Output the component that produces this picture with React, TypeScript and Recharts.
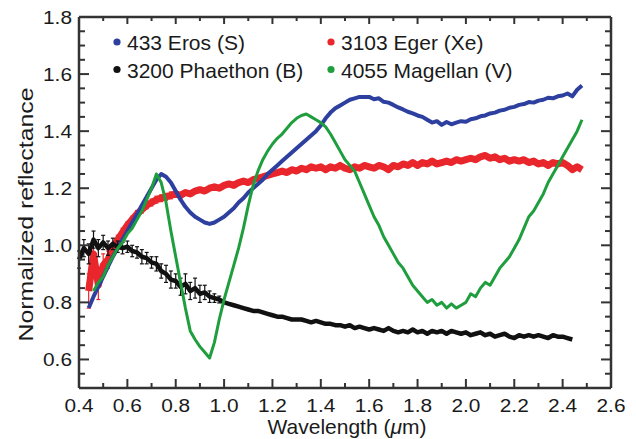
import React from "react";
import { LineChart, Line, XAxis, YAxis, Label, ErrorBar } from "recharts";

const W = 636;
const H = 439;
const MARGIN = { top: 17, right: 25, bottom: 0, left: 0 };
const Y_AXIS_W = 79;
const X_AXIS_H = 51;
const PLOT_TOP = MARGIN.top;
const PLOT_LEFT = MARGIN.left + Y_AXIS_W;
const PLOT_RIGHT = W - MARGIN.right;
const PLOT_BOTTOM = H - MARGIN.bottom - X_AXIS_H;
const X_DOMAIN = [0.4, 2.6];
const Y_DOMAIN = [0.5, 1.8];
const AXIS_COLOR = "#333333";
const TEXT_COLOR = "#1a1a1a";
const FONT = "'Liberation Sans', Arial, Helvetica, sans-serif";

// wavelength grid (µm)
const wavelength = [
  0.4, 0.42, 0.44, 0.46, 0.48, 0.5, 0.52, 0.54, 0.56, 0.58,
  0.6, 0.62, 0.64, 0.66, 0.68, 0.7, 0.72, 0.74, 0.76, 0.78,
  0.8, 0.82, 0.84, 0.86, 0.88, 0.9, 0.92, 0.94, 0.96, 0.98,
  1.0, 1.02, 1.04, 1.06, 1.08, 1.1, 1.12, 1.14, 1.16, 1.18,
  1.2, 1.22, 1.24, 1.26, 1.28, 1.3, 1.32, 1.34, 1.36, 1.38,
  1.4, 1.42, 1.44, 1.46, 1.48, 1.5, 1.52, 1.54, 1.56, 1.58,
  1.6, 1.62, 1.64, 1.66, 1.68, 1.7, 1.72, 1.74, 1.76, 1.78,
  1.8, 1.82, 1.84, 1.86, 1.88, 1.9, 1.92, 1.94, 1.96, 1.98,
  2.0, 2.02, 2.04, 2.06, 2.08, 2.1, 2.12, 2.14, 2.16, 2.18,
  2.2, 2.22, 2.24, 2.26, 2.28, 2.3, 2.32, 2.34, 2.36, 2.38,
  2.4, 2.42, 2.44, 2.46, 2.48,
];

// 433 Eros (S)
const eros = [
  null, null, 0.78, 0.82, 0.855, 0.89, 0.925, 0.96, 0.99, 1.02,
  1.05, 1.08, 1.11, 1.14, 1.17, 1.2, 1.23, 1.25, 1.24, 1.22,
  1.19, 1.16, 1.135, 1.115, 1.1, 1.09, 1.08, 1.075, 1.08, 1.09,
  1.1, 1.115, 1.13, 1.15, 1.165, 1.185, 1.2, 1.215, 1.23, 1.25,
  1.265, 1.28, 1.295, 1.31, 1.325, 1.34, 1.355, 1.37, 1.385, 1.4,
  1.42, 1.445, 1.465, 1.48, 1.49, 1.5, 1.51, 1.515, 1.52, 1.52,
  1.52, 1.512, 1.515, 1.503, 1.5, 1.492, 1.483, 1.476, 1.468, 1.462,
  1.455, 1.45, 1.44, 1.43, 1.435, 1.422, 1.432, 1.424, 1.43, 1.435,
  1.433, 1.442, 1.445, 1.452, 1.455, 1.462, 1.465, 1.472, 1.475, 1.482,
  1.485, 1.492, 1.495, 1.502, 1.5, 1.507, 1.51, 1.517, 1.515, 1.522,
  1.525, 1.532, 1.522, 1.545, 1.56,
];

// 3103 Eger (Xe)
const eger = [
  null, null, 0.84, 0.97, 0.86, 0.93, 0.95, 0.99, 1.02, 1.045,
  1.07, 1.09, 1.11, 1.125, 1.14, 1.15, 1.16, 1.165, 1.17, 1.175,
  1.18, 1.175, 1.185, 1.18, 1.19, 1.195, 1.19, 1.2, 1.205, 1.2,
  1.21, 1.215, 1.21, 1.22, 1.225, 1.22, 1.23, 1.235, 1.24, 1.245,
  1.25, 1.255, 1.26, 1.255, 1.265, 1.26, 1.27, 1.265, 1.275, 1.27,
  1.275, 1.265, 1.275, 1.27, 1.28, 1.27, 1.265, 1.275, 1.27, 1.28,
  1.275, 1.27, 1.28, 1.275, 1.265, 1.28, 1.275, 1.285, 1.28, 1.29,
  1.28, 1.29, 1.285, 1.295, 1.285, 1.29, 1.295, 1.29, 1.3, 1.295,
  1.3, 1.305, 1.3, 1.31, 1.315, 1.305, 1.31, 1.3, 1.305, 1.295,
  1.3, 1.295, 1.3, 1.29, 1.295, 1.285, 1.29, 1.28, 1.29, 1.285,
  1.29, 1.28, 1.265, 1.275, 1.265,
];
const egerErr = [
  null, null, 0.06, 0.04, 0.05, 0.04, 0.03, 0.02, 0.015, 0.015,
  0.012, 0.012, 0.012, 0.012, 0.012, 0.012, 0.012, 0.012, 0.012, 0.012,
];

// 3200 Phaethon (B)
const phaethon = [
  0.95, 0.99, 0.97, 1.02, 0.99, 1.01, 0.99, 1.005, 0.995, 0.99,
  0.995, 0.98, 0.975, 0.96, 0.955, 0.94, 0.935, 0.91, 0.9, 0.88,
  0.875, 0.855, 0.865, 0.84, 0.85, 0.83, 0.835, 0.82, 0.815, 0.81,
  0.8, 0.795, 0.79, 0.785, 0.78, 0.775, 0.77, 0.77, 0.765, 0.76,
  0.755, 0.75, 0.75, 0.745, 0.74, 0.74, 0.74, 0.735, 0.73, 0.735,
  0.73, 0.725, 0.725, 0.72, 0.72, 0.715, 0.72, 0.71, 0.715, 0.71,
  0.705, 0.71, 0.705, 0.7, 0.71, 0.7, 0.695, 0.7, 0.695, 0.705,
  0.695, 0.7, 0.69, 0.7, 0.695, 0.7, 0.69, 0.7, 0.695, 0.69,
  0.695, 0.685, 0.69, 0.695, 0.685, 0.69, 0.68, 0.685, 0.69, 0.68,
  0.675, 0.685, 0.68, 0.685, 0.68, 0.685, 0.68, 0.675, 0.685, 0.68,
  0.68, 0.675, 0.67, null, null,
];
const phaethonErr = [
  0.03, 0.03, 0.035, 0.03, 0.03, 0.025, 0.025, 0.02, 0.02, 0.02,
  0.02, 0.02, 0.02, 0.025, 0.02, 0.02, 0.025, 0.025, 0.03, 0.03,
  0.025, 0.03, 0.035, 0.03, 0.035, 0.03, 0.025, 0.02, 0.015, 0.012,
];

// 4055 Magellan (V)
const magellan = [
  null, null, null, 0.84, 0.87, 0.89, 0.93, 0.96, 0.99, 1.01,
  1.04, 1.06, 1.09, 1.12, 1.16, 1.2, 1.25, 1.22, 1.15, 1.05,
  0.96, 0.87, 0.78, 0.7, 0.67, 0.645, 0.625, 0.605, 0.66, 0.74,
  0.81, 0.87, 0.93, 0.99, 1.06, 1.14, 1.21, 1.26, 1.3, 1.33,
  1.355, 1.375, 1.39, 1.41, 1.43, 1.445, 1.455, 1.46, 1.45, 1.44,
  1.43, 1.415, 1.39, 1.36, 1.33, 1.3, 1.28, 1.26, 1.22, 1.18,
  1.14, 1.1, 1.07, 1.03, 1.0, 0.97, 0.94, 0.92, 0.89, 0.86,
  0.84, 0.82, 0.8, 0.81, 0.79, 0.8, 0.78, 0.795, 0.78, 0.79,
  0.8, 0.83, 0.82, 0.85, 0.87, 0.86, 0.89, 0.92, 0.94, 0.96,
  0.99, 1.02, 1.06, 1.1, 1.12, 1.15, 1.18, 1.22, 1.25, 1.28,
  1.31, 1.34, 1.37, 1.4, 1.44,
];

const xTicks = [
  0.4, 0.5, 0.6, 0.7, 0.8, 0.9, 1.0, 1.1, 1.2, 1.3, 1.4, 1.5,
  1.6, 1.7, 1.8, 1.9, 2.0, 2.1, 2.2, 2.3, 2.4, 2.5, 2.6,
];
const yTicks = [
  0.5, 0.55, 0.6, 0.65, 0.7, 0.75, 0.8, 0.85, 0.9, 0.95, 1.0, 1.05, 1.1, 1.15,
  1.2, 1.25, 1.3, 1.35, 1.4, 1.45, 1.5, 1.55, 1.6, 1.65, 1.7, 1.75, 1.8,
];

const series = [
  { key: "eger", name: "3103 Eger (Xe)", color: "#e8262b", width: 7, err: "egerErr" },
  { key: "eros", name: "433 Eros (S)", color: "#2d3f9f", width: 4, err: null },
  { key: "phaethon", name: "3200 Phaethon (B)", color: "#111111", width: 4.5, err: "phaethonErr" },
  { key: "magellan", name: "4055 Magellan (V)", color: "#1f9e3d", width: 3, err: null },
];

// legend order: two columns, two rows
const legendItems = [
  { name: "433 Eros (S)", color: "#2d3f9f", col: 0, row: 0 },
  { name: "3103 Eger (Xe)", color: "#e8262b", col: 1, row: 0 },
  { name: "3200 Phaethon (B)", color: "#111111", col: 0, row: 1 },
  { name: "4055 Magellan (V)", color: "#1f9e3d", col: 1, row: 1 },
];

const data = wavelength.map((w, i) => ({
  w,
  eros: eros[i],
  eger: eger[i],
  egerErr: egerErr[i] ?? 0,
  phaethon: phaethon[i],
  phaethonErr: phaethonErr[i] ?? 0,
  magellan: magellan[i],
}));

const isMajor = (v: number) => Math.abs(v * 5 - Math.round(v * 5)) < 1e-6;

// same linear mapping as the chart's axes, used for the frame overlay
const sx = (v: number) =>
  PLOT_LEFT + ((v - X_DOMAIN[0]) / (X_DOMAIN[1] - X_DOMAIN[0])) * (PLOT_RIGHT - PLOT_LEFT);
const sy = (v: number) =>
  PLOT_BOTTOM - ((v - Y_DOMAIN[0]) / (Y_DOMAIN[1] - Y_DOMAIN[0])) * (PLOT_BOTTOM - PLOT_TOP);

function XTick(props: any) {
  const { x, y, payload } = props;
  const v = payload.value;
  if (!isMajor(v)) return <g />;
  return (
    <text
      x={x}
      y={y + 24}
      textAnchor="middle"
      fontSize={18}
      textLength={29}
      lengthAdjust="spacingAndGlyphs"
      fill={TEXT_COLOR}
      fontFamily={FONT}
    >
      {v.toFixed(1)}
    </text>
  );
}

function YTick(props: any) {
  const { x, y, payload } = props;
  const v = payload.value;
  if (!isMajor(v) || v < 0.55) return <g />;
  return (
    <text
      x={x - 7}
      y={y + 6.5}
      textAnchor="end"
      fontSize={18}
      textLength={29}
      lengthAdjust="spacingAndGlyphs"
      fill={TEXT_COLOR}
      fontFamily={FONT}
    >
      {v.toFixed(1)}
    </text>
  );
}

function Overlay() {
  return (
    <svg
      width={W}
      height={H}
      style={{ position: "absolute", left: 0, top: 0, pointerEvents: "none" }}
    >
      <line x1={PLOT_LEFT} x2={PLOT_RIGHT} y1={PLOT_TOP} y2={PLOT_TOP} stroke={AXIS_COLOR} strokeWidth={2.5} />
      <line x1={PLOT_LEFT} x2={PLOT_RIGHT} y1={PLOT_BOTTOM} y2={PLOT_BOTTOM} stroke={AXIS_COLOR} strokeWidth={2.5} />
      <line x1={PLOT_LEFT} x2={PLOT_LEFT} y1={PLOT_TOP} y2={PLOT_BOTTOM} stroke={AXIS_COLOR} strokeWidth={2.5} />
      <line x1={PLOT_RIGHT} x2={PLOT_RIGHT} y1={PLOT_TOP} y2={PLOT_BOTTOM} stroke={AXIS_COLOR} strokeWidth={2.5} />
      {xTicks.map((v) => {
        const x = sx(v);
        const major = isMajor(v);
        return (
          <g key={`x${v}`}>
            <line x1={x} x2={x} y1={PLOT_BOTTOM} y2={PLOT_BOTTOM - (major ? 9 : 5)} stroke={AXIS_COLOR} strokeWidth={2} />
            <line x1={x} x2={x} y1={PLOT_TOP} y2={PLOT_TOP + (major ? 7 : 4)} stroke={AXIS_COLOR} strokeWidth={2} />
          </g>
        );
      })}
      {yTicks.map((v) => {
        const y = sy(v);
        const len = isMajor(v) ? 10 : 6;
        return (
          <g key={`y${v}`}>
            <line x1={PLOT_LEFT} x2={PLOT_LEFT + len} y1={y} y2={y} stroke={AXIS_COLOR} strokeWidth={2} />
            <line x1={PLOT_RIGHT} x2={PLOT_RIGHT - len} y1={y} y2={y} stroke={AXIS_COLOR} strokeWidth={2} />
          </g>
        );
      })}
      {legendItems.map((it) => {
        const dx = it.col === 0 ? 117 : 331;
        const by = it.row === 0 ? 50 : 77.5;
        return (
          <g key={it.name}>
            <circle cx={dx} cy={by - 8} r={3.6} fill={it.color} />
            <text x={dx + 10} y={by} fontSize={21} fill={TEXT_COLOR} fontFamily={FONT}>
              {it.name}
            </text>
          </g>
        );
      })}
    </svg>
  );
}

export default function App() {
  return (
    <div style={{ position: "absolute", left: 0, top: 0, width: W, height: H, background: "#fff" }}>
      <LineChart width={W} height={H} data={data} margin={MARGIN}>
        <XAxis
          dataKey="w"
          type="number"
          domain={X_DOMAIN}
          ticks={xTicks}
          interval={0}
          height={X_AXIS_H}
          tickSize={0}
          tickMargin={0}
          axisLine={false}
          tickLine={false}
          tick={<XTick />}
        >
          <Label
            content={(p: any) => {
              const vb = p.viewBox;
              return (
                <text
                  x={vb.x + vb.width / 2 + 2}
                  y={vb.y + 46}
                  textAnchor="middle"
                  fontSize={21}
                  fill={TEXT_COLOR}
                  fontFamily={FONT}
                >
                  Wavelength (<tspan fontStyle="italic">μ</tspan>m)
                </text>
              );
            }}
          />
        </XAxis>
        <YAxis
          type="number"
          domain={Y_DOMAIN}
          ticks={yTicks}
          interval={0}
          width={Y_AXIS_W}
          tickSize={0}
          tickMargin={0}
          axisLine={false}
          tickLine={false}
          tick={<YTick />}
        >
          <Label
            content={(p: any) => {
              const vb = p.viewBox;
              const cx = vb.x + 33;
              const cy = vb.y + vb.height / 2 + 12;
              return (
                <text
                  x={cx}
                  y={cy}
                  transform={`rotate(-90, ${cx}, ${cy})`}
                  textAnchor="middle"
                  fontSize={21}
                  textLength={254}
                  lengthAdjust="spacingAndGlyphs"
                  fill={TEXT_COLOR}
                  fontFamily={FONT}
                >
                  Normalized reflectance
                </text>
              );
            }}
          />
        </YAxis>
        {series.map((s) => (
          <Line
            key={s.key}
            dataKey={s.key}
            name={s.name}
            stroke={s.color}
            strokeWidth={s.width}
            strokeLinejoin="round"
            dot={false}
            activeDot={false}
            isAnimationActive={false}
          >
            {s.err && (
              <ErrorBar dataKey={s.err} direction="y" width={2} strokeWidth={1.2} stroke={s.color} />
            )}
          </Line>
        ))}
      </LineChart>
      <Overlay />
    </div>
  );
}
